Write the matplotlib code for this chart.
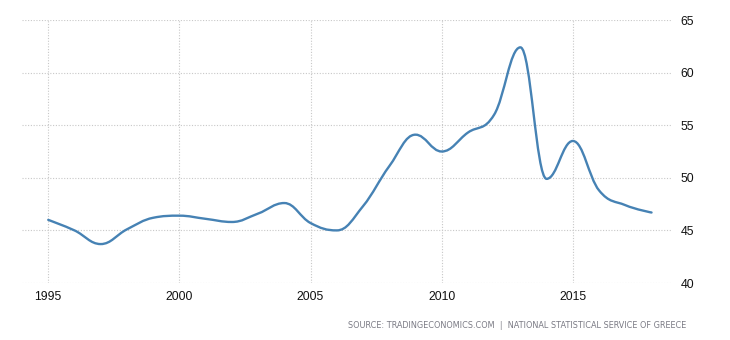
import matplotlib
matplotlib.use("Agg")
import matplotlib.pyplot as plt
from matplotlib.path import Path
from matplotlib.patches import PathPatch
import numpy as np

# Annual series
years = [1995, 1996, 1997, 1998, 1999, 2000, 2001, 2002, 2003, 2004, 2005, 2006,
         2007, 2008, 2009, 2010, 2011, 2012, 2013, 2014, 2015, 2016, 2017, 2018]
values = [46.0, 45.0, 43.7, 45.1, 46.2, 46.4, 46.1, 45.8, 46.6, 47.6, 45.7, 45.0,
          47.3, 51.1, 54.1, 52.5, 54.3, 56.0, 62.4, 49.9, 53.5, 48.8, 47.4, 46.7]

x_ticks = [1995, 2000, 2005, 2010, 2015]
y_ticks = [40, 45, 50, 55, 60, 65]
source = "SOURCE: TRADINGECONOMICS.COM  |  NATIONAL STATISTICAL SERVICE OF GREECE"

LINE = "#4682b4"
GRID = "#c8c8c8"
FONT = "Liberation Sans"


def spline_path(x, y, smoothing=1.5):
    """Cubic bezier path through every point, control points taken from neighbours."""
    x = [float(v) for v in x]
    y = [float(v) for v in y]
    n = len(x)
    left = [(x[i], y[i]) for i in range(n)]
    right = [(x[i], y[i]) for i in range(n)]
    d = smoothing + 1
    for i in range(1, n - 1):
        lx = (smoothing * x[i] + x[i - 1]) / d
        ly = (smoothing * y[i] + y[i - 1]) / d
        rx = (smoothing * x[i] + x[i + 1]) / d
        ry = (smoothing * y[i] + y[i + 1]) / d
        corr = (ry - ly) * (rx - x[i]) / (rx - lx) + y[i] - ry
        ly += corr
        ry += corr
        # keep the curve from overshooting its neighbours
        if ly > y[i - 1] and ly > y[i]:
            ly = max(y[i - 1], y[i]); ry = 2 * y[i] - ly
        elif ly < y[i - 1] and ly < y[i]:
            ly = min(y[i - 1], y[i]); ry = 2 * y[i] - ly
        if ry > y[i + 1] and ry > y[i]:
            ry = max(y[i + 1], y[i]); ly = 2 * y[i] - ry
        elif ry < y[i + 1] and ry < y[i]:
            ry = min(y[i + 1], y[i]); ly = 2 * y[i] - ry
        left[i] = (lx, ly)
        right[i] = (rx, ry)
    verts = [(x[0], y[0])]
    codes = [Path.MOVETO]
    for i in range(1, n):
        verts += [right[i - 1], left[i], (x[i], y[i])]
        codes += [Path.CURVE4] * 3
    return Path(verts, codes)


fig = plt.figure(figsize=(7.3, 3.4), dpi=100)
ax = fig.add_axes([22 / 730, 1 - 283 / 340, 650 / 730, 263 / 340])

ax.add_patch(PathPatch(spline_path(years, values), facecolor="none",
                       edgecolor=LINE, lw=1.7, capstyle="round", zorder=3))

ax.set_xlim(1994.0, 2018.78)
ax.set_ylim(40, 65)
ax.set_xticks(x_ticks)
ax.set_yticks(y_ticks)
ax.yaxis.tick_right()
ax.grid(True, color=GRID, lw=0.8, ls=(0, (1, 1.5)))
ax.set_axisbelow(True)
for s in ax.spines.values():
    s.set_visible(False)
ax.tick_params(length=0, labelsize=8.8, colors="#111111")
ax.tick_params(axis="x", pad=6)
ax.tick_params(axis="y", pad=6)
for lab in ax.get_xticklabels() + ax.get_yticklabels():
    lab.set_fontfamily(FONT)

fig.text(686 / 730, 1 - 325 / 340, source, ha="right", va="center",
         fontsize=5.9, color="#7a7a84")

fig.savefig("out.png", dpi=100)
